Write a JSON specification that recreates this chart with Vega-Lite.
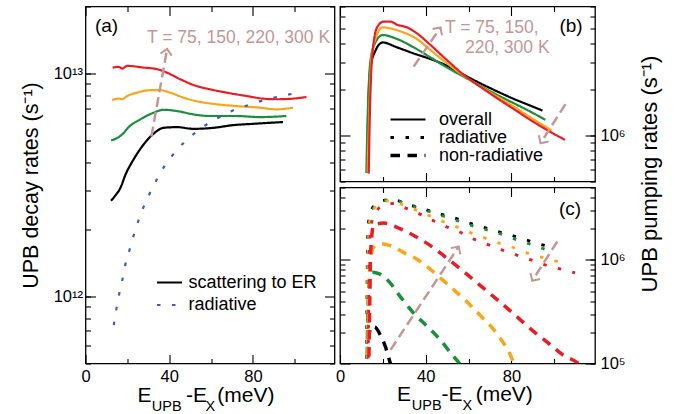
{
"$schema":"https://vega.github.io/schema/vega-lite/v6.json",
"padding":{"left":19.5,"top":4.5,"right":5,"bottom":0},
"background":"white",
"config":{"font":"Liberation Sans","view":{"stroke":"black","strokeWidth":1.3},
"axis":{"domain":false,"grid":false,"tickColor":"black","tickWidth":1.1,"labelColor":"black","labelFont":"Liberation Sans","labelFontSize":16.5,"titleColor":"black","titleFont":"Liberation Sans","titleFontWeight":"normal"},
"legend":{"labelFont":"Liberation Sans","labelFontSize":18,"labelColor":"black"},
"text":{"font":"Liberation Sans"}},
"datasets":{
"decay":[
{"s":"75 K","x":12.2,"y":2.69e12},{"s":"75 K","x":14.3,"y":2.84e12},{"s":"75 K","x":16.7,"y":3.07e12},{"s":"75 K","x":19.0,"y":3.5e12},{"s":"75 K","x":23.0,"y":4.12e12},{"s":"75 K","x":27.8,"y":4.81e12},{"s":"75 K","x":32.5,"y":5.37e12},{"s":"75 K","x":37.3,"y":5.71e12},{"s":"75 K","x":43.7,"y":5.75e12},{"s":"75 K","x":51.6,"y":5.65e12},{"s":"75 K","x":61.1,"y":5.71e12},{"s":"75 K","x":70.6,"y":5.87e12},{"s":"75 K","x":80.1,"y":5.95e12},{"s":"75 K","x":94.4,"y":6.06e12},
{"s":"150 K","x":12.2,"y":5.01e12},{"s":"150 K","x":15.9,"y":5.19e12},{"s":"150 K","x":17.5,"y":5.33e12},{"s":"150 K","x":20.6,"y":5.75e12},{"s":"150 K","x":26.2,"y":6.23e12},{"s":"150 K","x":32.5,"y":6.67e12},{"s":"150 K","x":37.3,"y":6.88e12},{"s":"150 K","x":43.7,"y":6.79e12},{"s":"150 K","x":51.6,"y":6.56e12},{"s":"150 K","x":59.5,"y":6.45e12},{"s":"150 K","x":72.2,"y":6.45e12},{"s":"150 K","x":83.3,"y":6.38e12},{"s":"150 K","x":96.0,"y":6.45e12},
{"s":"220 K","x":12.7,"y":7.61e12},{"s":"220 K","x":15.9,"y":7.72e12},{"s":"220 K","x":17.5,"y":7.67e12},{"s":"220 K","x":19.9,"y":7.93e12},{"s":"220 K","x":24.6,"y":8.21e12},{"s":"220 K","x":30.9,"y":8.42e12},{"s":"220 K","x":35.7,"y":8.42e12},{"s":"220 K","x":40.5,"y":8.21e12},{"s":"220 K","x":46.8,"y":7.8e12},{"s":"220 K","x":54.8,"y":7.46e12},{"s":"220 K","x":62.7,"y":7.28e12},{"s":"220 K","x":72.2,"y":7.15e12},{"s":"220 K","x":83.3,"y":7.03e12},{"s":"220 K","x":91.3,"y":6.91e12},{"s":"220 K","x":99.2,"y":7.03e12},
{"s":"300 K","x":13.0,"y":1.064e13},{"s":"300 K","x":15.9,"y":1.072e13},{"s":"300 K","x":17.5,"y":1.053e13},{"s":"300 K","x":19.9,"y":1.083e13},{"s":"300 K","x":27.8,"y":1.064e13},{"s":"300 K","x":34.1,"y":1.047e13},{"s":"300 K","x":38.9,"y":1.01e13},{"s":"300 K","x":45.2,"y":9.44e12},{"s":"300 K","x":51.6,"y":8.89e12},{"s":"300 K","x":59.5,"y":8.5e12},{"s":"300 K","x":67.5,"y":8.21e12},{"s":"300 K","x":77.0,"y":7.93e12},{"s":"300 K","x":84.9,"y":7.72e12},{"s":"300 K","x":91.3,"y":7.67e12},{"s":"300 K","x":99.2,"y":7.72e12},{"s":"300 K","x":105.6,"y":7.85e12},
{"s":"radiative","x":13.5,"y":7.43e11},{"s":"radiative","x":16.0,"y":1.015e12},{"s":"radiative","x":17.6,"y":1.186e12},{"s":"radiative","x":19.0,"y":1.385e12},{"s":"radiative","x":21.0,"y":1.612e12},{"s":"radiative","x":23.0,"y":1.877e12},{"s":"radiative","x":25.2,"y":2.177e12},{"s":"radiative","x":27.8,"y":2.527e12},{"s":"radiative","x":30.8,"y":2.91e12},{"s":"radiative","x":34.1,"y":3.355e12},{"s":"radiative","x":37.8,"y":3.85e12},{"s":"radiative","x":42.1,"y":4.36e12},{"s":"radiative","x":47.1,"y":4.91e12},{"s":"radiative","x":52.7,"y":5.45e12},{"s":"radiative","x":58.7,"y":5.98e12},{"s":"radiative","x":65.1,"y":6.45e12},{"s":"radiative","x":71.7,"y":6.91e12},{"s":"radiative","x":78.6,"y":7.25e12},{"s":"radiative","x":85.4,"y":7.61e12},{"s":"radiative","x":92.5,"y":7.88e12},{"s":"radiative","x":99.5,"y":8.13e12},{"s":"radiative","x":100.5,"y":8.16e12}
],
"pump":[
{"T":"75 K","kind":"overall","x":12.7,"y":5.75e5},{"T":"75 K","kind":"overall","x":13.1,"y":1.318e6},{"T":"75 K","kind":"overall","x":14.2,"y":2.79e6},{"T":"75 K","kind":"overall","x":16.5,"y":3.59e6},{"T":"75 K","kind":"overall","x":19.9,"y":4.07e6},{"T":"75 K","kind":"overall","x":26.6,"y":3.78e6},{"T":"75 K","kind":"overall","x":34.4,"y":3.45e6},{"T":"75 K","kind":"overall","x":42.2,"y":3.17e6},{"T":"75 K","kind":"overall","x":49.9,"y":2.87e6},{"T":"75 K","kind":"overall","x":57.7,"y":2.5e6},{"T":"75 K","kind":"overall","x":65.4,"y":2.2e6},{"T":"75 K","kind":"overall","x":73.2,"y":1.95e6},{"T":"75 K","kind":"overall","x":81.0,"y":1.74e6},{"T":"75 K","kind":"overall","x":88.8,"y":1.57e6},{"T":"75 K","kind":"overall","x":94.5,"y":1.456e6},
{"T":"150 K","kind":"overall","x":12.3,"y":5.68e5},{"T":"150 K","kind":"overall","x":12.9,"y":1.318e6},{"T":"150 K","kind":"overall","x":14.2,"y":3.09e6},{"T":"150 K","kind":"overall","x":16.5,"y":4.07e6},{"T":"150 K","kind":"overall","x":19.9,"y":4.55e6},{"T":"150 K","kind":"overall","x":26.6,"y":4.29e6},{"T":"150 K","kind":"overall","x":34.4,"y":3.78e6},{"T":"150 K","kind":"overall","x":42.2,"y":3.25e6},{"T":"150 K","kind":"overall","x":49.9,"y":2.79e6},{"T":"150 K","kind":"overall","x":57.7,"y":2.43e6},{"T":"150 K","kind":"overall","x":65.4,"y":2.12e6},{"T":"150 K","kind":"overall","x":73.2,"y":1.85e6},{"T":"150 K","kind":"overall","x":81.0,"y":1.63e6},{"T":"150 K","kind":"overall","x":88.8,"y":1.435e6},{"T":"150 K","kind":"overall","x":95.8,"y":1.267e6},
{"T":"220 K","kind":"overall","x":12.9,"y":5.75e5},{"T":"220 K","kind":"overall","x":13.6,"y":1.318e6},{"T":"220 K","kind":"overall","x":14.7,"y":3.25e6},{"T":"220 K","kind":"overall","x":17.1,"y":4.51e6},{"T":"220 K","kind":"overall","x":19.9,"y":5.11e6},{"T":"220 K","kind":"overall","x":23.5,"y":5.03e6},{"T":"220 K","kind":"overall","x":29.7,"y":4.73e6},{"T":"220 K","kind":"overall","x":35.9,"y":4.29e6},{"T":"220 K","kind":"overall","x":42.2,"y":3.63e6},{"T":"220 K","kind":"overall","x":49.9,"y":2.97e6},{"T":"220 K","kind":"overall","x":57.7,"y":2.47e6},{"T":"220 K","kind":"overall","x":65.4,"y":2.1e6},{"T":"220 K","kind":"overall","x":73.2,"y":1.8e6},{"T":"220 K","kind":"overall","x":81.0,"y":1.55e6},{"T":"220 K","kind":"overall","x":88.8,"y":1.318e6},{"T":"220 K","kind":"overall","x":98.8,"y":1.078e6},
{"T":"300 K","kind":"overall","x":13.4,"y":5.63e5},{"T":"300 K","kind":"overall","x":13.9,"y":1.318e6},{"T":"300 K","kind":"overall","x":15.0,"y":3.25e6},{"T":"300 K","kind":"overall","x":17.3,"y":5.11e6},{"T":"300 K","kind":"overall","x":20.4,"y":5.58e6},{"T":"300 K","kind":"overall","x":23.5,"y":5.58e6},{"T":"300 K","kind":"overall","x":26.6,"y":5.32e6},{"T":"300 K","kind":"overall","x":31.3,"y":5.11e6},{"T":"300 K","kind":"overall","x":35.9,"y":4.67e6},{"T":"300 K","kind":"overall","x":42.2,"y":3.92e6},{"T":"300 K","kind":"overall","x":49.9,"y":3.12e6},{"T":"300 K","kind":"overall","x":57.7,"y":2.5e6},{"T":"300 K","kind":"overall","x":65.4,"y":2.09e6},{"T":"300 K","kind":"overall","x":73.2,"y":1.76e6},{"T":"300 K","kind":"overall","x":81.0,"y":1.494e6},{"T":"300 K","kind":"overall","x":88.8,"y":1.267e6},{"T":"300 K","kind":"overall","x":96.5,"y":1.089e6},{"T":"300 K","kind":"overall","x":105.0,"y":9.37e5},
{"T":"75 K","kind":"non-radiative","x":12.6,"y":8e4},{"T":"75 K","kind":"non-radiative","x":13.3,"y":1.62e5},{"T":"75 K","kind":"non-radiative","x":14.4,"y":2.25e5},{"T":"75 K","kind":"non-radiative","x":16.1,"y":2.25e5},{"T":"75 K","kind":"non-radiative","x":18.9,"y":1.87e5},{"T":"75 K","kind":"non-radiative","x":21.2,"y":1.45e5},{"T":"75 K","kind":"non-radiative","x":23.5,"y":1e5},{"T":"75 K","kind":"non-radiative","x":24.5,"y":8.5e4},
{"T":"150 K","kind":"non-radiative","x":12.6,"y":8e4},{"T":"150 K","kind":"non-radiative","x":13.0,"y":3.14e5},{"T":"150 K","kind":"non-radiative","x":13.7,"y":6.11e5},{"T":"150 K","kind":"non-radiative","x":15.1,"y":7.62e5},{"T":"150 K","kind":"non-radiative","x":18.4,"y":7.33e5},{"T":"150 K","kind":"non-radiative","x":23.1,"y":6.11e5},{"T":"150 K","kind":"non-radiative","x":27.7,"y":4.55e5},{"T":"150 K","kind":"non-radiative","x":33.9,"y":3.14e5},{"T":"150 K","kind":"non-radiative","x":40.1,"y":2.34e5},{"T":"150 K","kind":"non-radiative","x":46.3,"y":1.74e5},{"T":"150 K","kind":"non-radiative","x":52.5,"y":1.2e5},{"T":"150 K","kind":"non-radiative","x":55.7,"y":1e5},{"T":"150 K","kind":"non-radiative","x":57.0,"y":9e4},
{"T":"220 K","kind":"non-radiative","x":12.9,"y":8e4},{"T":"220 K","kind":"non-radiative","x":13.4,"y":3.92e5},{"T":"220 K","kind":"non-radiative","x":14.3,"y":1.06e6},{"T":"220 K","kind":"non-radiative","x":15.7,"y":1.324e6},{"T":"220 K","kind":"non-radiative","x":19.9,"y":1.426e6},{"T":"220 K","kind":"non-radiative","x":25.4,"y":1.324e6},{"T":"220 K","kind":"non-radiative","x":30.8,"y":1.142e6},{"T":"220 K","kind":"non-radiative","x":34.4,"y":1.06e6},{"T":"220 K","kind":"non-radiative","x":42.2,"y":8.09e5},{"T":"220 K","kind":"non-radiative","x":49.9,"y":5.88e5},{"T":"220 K","kind":"non-radiative","x":57.7,"y":4.22e5},{"T":"220 K","kind":"non-radiative","x":65.4,"y":2.92e5},{"T":"220 K","kind":"non-radiative","x":73.2,"y":1.94e5},{"T":"220 K","kind":"non-radiative","x":80.2,"y":1.12e5},{"T":"220 K","kind":"non-radiative","x":82.0,"y":9e4},
{"T":"300 K","kind":"non-radiative","x":13.4,"y":8e4},{"T":"300 K","kind":"non-radiative","x":13.9,"y":3.92e5},{"T":"300 K","kind":"non-radiative","x":14.3,"y":1.186e6},{"T":"300 K","kind":"non-radiative","x":15.7,"y":2.16e6},{"T":"300 K","kind":"non-radiative","x":20.4,"y":2.27e6},{"T":"300 K","kind":"non-radiative","x":26.6,"y":2.06e6},{"T":"300 K","kind":"non-radiative","x":34.4,"y":1.72e6},{"T":"300 K","kind":"non-radiative","x":42.2,"y":1.375e6},{"T":"300 K","kind":"non-radiative","x":49.9,"y":1.038e6},{"T":"300 K","kind":"non-radiative","x":57.7,"y":7.73e5},{"T":"300 K","kind":"non-radiative","x":65.4,"y":5.67e5},{"T":"300 K","kind":"non-radiative","x":73.2,"y":4.16e5},{"T":"300 K","kind":"non-radiative","x":81.0,"y":3.02e5},{"T":"300 K","kind":"non-radiative","x":88.8,"y":2.17e5},{"T":"300 K","kind":"non-radiative","x":96.5,"y":1.62e5},{"T":"300 K","kind":"non-radiative","x":104.3,"y":1.2e5},{"T":"300 K","kind":"non-radiative","x":111.2,"y":1e5},{"T":"300 K","kind":"non-radiative","x":113.0,"y":9.2e4},
{"T":"75 K","kind":"radiative","x":12.3,"y":8e4},{"T":"75 K","kind":"radiative","x":12.6,"y":3.92e5},{"T":"75 K","kind":"radiative","x":12.8,"y":1.186e6},{"T":"75 K","kind":"radiative","x":13.3,"y":2.3e6},{"T":"75 K","kind":"radiative","x":14.2,"y":2.92e6},{"T":"75 K","kind":"radiative","x":18.9,"y":3.72e6},{"T":"75 K","kind":"radiative","x":24.8,"y":3.81e6},{"T":"75 K","kind":"radiative","x":31.3,"y":3.45e6},{"T":"75 K","kind":"radiative","x":38.3,"y":3.14e6},{"T":"75 K","kind":"radiative","x":45.3,"y":2.83e6},{"T":"75 K","kind":"radiative","x":51.8,"y":2.61e6},{"T":"75 K","kind":"radiative","x":58.4,"y":2.34e6},{"T":"75 K","kind":"radiative","x":65.4,"y":2.11e6},{"T":"75 K","kind":"radiative","x":71.9,"y":1.92e6},{"T":"75 K","kind":"radiative","x":79.4,"y":1.74e6},{"T":"75 K","kind":"radiative","x":86.4,"y":1.57e6},{"T":"75 K","kind":"radiative","x":93.0,"y":1.426e6},{"T":"75 K","kind":"radiative","x":100.4,"y":1.3e6},
{"T":"150 K","kind":"radiative","x":12.4,"y":8e4},{"T":"150 K","kind":"radiative","x":12.7,"y":3.9e5},{"T":"150 K","kind":"radiative","x":12.9,"y":1.2e6},{"T":"150 K","kind":"radiative","x":13.5,"y":2.3e6},{"T":"150 K","kind":"radiative","x":15.0,"y":3.0e6},{"T":"150 K","kind":"radiative","x":19.5,"y":3.72e6},{"T":"150 K","kind":"radiative","x":25.0,"y":3.78e6},{"T":"150 K","kind":"radiative","x":31.5,"y":3.4e6},{"T":"150 K","kind":"radiative","x":38.5,"y":3.08e6},{"T":"150 K","kind":"radiative","x":45.5,"y":2.76e6},{"T":"150 K","kind":"radiative","x":52.0,"y":2.5e6},{"T":"150 K","kind":"radiative","x":58.0,"y":2.27e6},{"T":"150 K","kind":"radiative","x":63.6,"y":2.08e6},{"T":"150 K","kind":"radiative","x":70.4,"y":1.9e6},{"T":"150 K","kind":"radiative","x":77.1,"y":1.72e6},{"T":"150 K","kind":"radiative","x":84.1,"y":1.52e6},{"T":"150 K","kind":"radiative","x":91.1,"y":1.37e6},{"T":"150 K","kind":"radiative","x":97.7,"y":1.22e6},
{"T":"220 K","kind":"radiative","x":12.6,"y":8e4},{"T":"220 K","kind":"radiative","x":12.9,"y":4e5},{"T":"220 K","kind":"radiative","x":13.2,"y":1.2e6},{"T":"220 K","kind":"radiative","x":13.9,"y":2.3e6},{"T":"220 K","kind":"radiative","x":15.5,"y":3.0e6},{"T":"220 K","kind":"radiative","x":19.5,"y":3.65e6},{"T":"220 K","kind":"radiative","x":24.0,"y":3.72e6},{"T":"220 K","kind":"radiative","x":30.0,"y":3.35e6},{"T":"220 K","kind":"radiative","x":36.0,"y":3.0e6},{"T":"220 K","kind":"radiative","x":42.9,"y":2.6e6},{"T":"220 K","kind":"radiative","x":49.1,"y":2.3e6},{"T":"220 K","kind":"radiative","x":55.3,"y":2.05e6},{"T":"220 K","kind":"radiative","x":61.8,"y":1.8e6},{"T":"220 K","kind":"radiative","x":68.6,"y":1.6e6},{"T":"220 K","kind":"radiative","x":75.1,"y":1.43e6},{"T":"220 K","kind":"radiative","x":81.7,"y":1.3e6},{"T":"220 K","kind":"radiative","x":88.7,"y":1.14e6},{"T":"220 K","kind":"radiative","x":95.7,"y":1.04e6},{"T":"220 K","kind":"radiative","x":102.7,"y":9.5e5},
{"T":"300 K","kind":"radiative","x":13.1,"y":8e4},{"T":"300 K","kind":"radiative","x":13.4,"y":4e5},{"T":"300 K","kind":"radiative","x":13.7,"y":1.2e6},{"T":"300 K","kind":"radiative","x":14.6,"y":2.2e6},{"T":"300 K","kind":"radiative","x":16.5,"y":2.8e6},{"T":"300 K","kind":"radiative","x":20.5,"y":3.4e6},{"T":"300 K","kind":"radiative","x":25.0,"y":3.5e6},{"T":"300 K","kind":"radiative","x":30.0,"y":3.2e6},{"T":"300 K","kind":"radiative","x":36.0,"y":2.85e6},{"T":"300 K","kind":"radiative","x":42.5,"y":2.45e6},{"T":"300 K","kind":"radiative","x":49.0,"y":2.12e6},{"T":"300 K","kind":"radiative","x":56.1,"y":1.85e6},{"T":"300 K","kind":"radiative","x":62.3,"y":1.59e6},{"T":"300 K","kind":"radiative","x":68.8,"y":1.41e6},{"T":"300 K","kind":"radiative","x":75.5,"y":1.25e6},{"T":"300 K","kind":"radiative","x":82.2,"y":1.12e6},{"T":"300 K","kind":"radiative","x":89.1,"y":1.0e6},{"T":"300 K","kind":"radiative","x":95.7,"y":8.96e5},{"T":"300 K","kind":"radiative","x":102.7,"y":8.19e5},{"T":"300 K","kind":"radiative","x":109.7,"y":7.5e5}
]},
"spacing":5.5,
"bounds":"flush",
"resolve":{"scale":{"color":"independent","strokeDash":"independent","strokeWidth":"independent"},"legend":{"color":"independent","strokeDash":"independent","strokeWidth":"independent"}},
"hconcat":[
{"width":249,"height":357,
"resolve":{"axis":{"x":"independent","y":"independent"}},
"layer":[
{"data":{"name":"decay"},"mark":{"type":"line","interpolate":"monotone","clip":true},
"encoding":{
"x":{"field":"x","type":"quantitative","scale":{"domain":[0,119],"nice":false,"zero":false},"axis":{"orient":"bottom","values":[0,20,40,60,80,100],"labelExpr":"datum.value % 40 == 0 ? datum.label : ''","tickSize":{"condition":{"test":"datum.value % 40 == 0","value":-9},"value":-5},"labelPadding":14,"labelOverlap":false,"labelFlush":false,"title":null}},
"y":{"field":"y","type":"quantitative","scale":{"type":"log","domain":[5e11,2e13],"nice":false},"axis":{"orient":"left","values":[1e12,1e13],"labelExpr":"abs(datum.value/1e12-1)<1e-6 ? '10¹²' : '10¹³'","tickSize":-10,"labelPadding":13,"labelOverlap":false,"labelFlush":false,"labelBaseline":"middle","title":"UPB decay rates (s⁻¹)","titleFontSize":21.5,"titleAngle":270,"titleX":-48.3,"titleY":178.5,"titleAlign":"center","titleBaseline":"alphabetic"}},
"color":{"field":"s","type":"nominal","scale":{"domain":["75 K","150 K","220 K","300 K","radiative"],"range":["#000000","#1a8f3c","#faa61a","#ed1c24","#3b5cc4"]},"legend":{"orient":"none","legendX":75,"legendY":267,"title":null,"values":["75 K","radiative"],"labelExpr":"datum.label == '75 K' ? 'scattering to ER' : datum.label","symbolType":"M-2.5,0H2.5","symbolSize":100,"labelFontSize":18,"labelOffset":10,"rowPadding":4.5,"padding":0,"labelLimit":300}},
"strokeDash":{"field":"s","type":"nominal","scale":{"domain":["75 K","150 K","220 K","300 K","radiative"],"range":[[1,0],[1,0],[1,0],[1,0],[3.5,11.5]]},"legend":{"orient":"none","legendX":75,"legendY":267,"title":null,"values":["75 K","radiative"],"labelExpr":"datum.label == '75 K' ? 'scattering to ER' : datum.label","symbolType":"M-2.5,0H2.5","symbolSize":100,"labelFontSize":18,"labelOffset":10,"rowPadding":4.5,"padding":0,"labelLimit":300}},
"strokeWidth":{"field":"s","type":"ordinal","scale":{"domain":["75 K","150 K","220 K","300 K","radiative"],"range":[2.2,2.2,2.2,2.2,3.5]},"legend":{"orient":"none","legendX":75,"legendY":267,"title":null,"values":["75 K","radiative"],"labelExpr":"datum.label == '75 K' ? 'scattering to ER' : datum.label","symbolType":"M-2.5,0H2.5","symbolSize":100,"labelFontSize":18,"labelOffset":10,"rowPadding":4.5,"padding":0,"labelLimit":300}}
}},
{"data":{"values":[{}]},"mark":{"type":"rule","stroke":"#c49696","strokeWidth":2.5,"strokeDash":[10,5]},
"encoding":{
"x":{"datum":31.5,"type":"quantitative","scale":{"domain":[0,119],"nice":false,"zero":false},"axis":{"orient":"top","values":[0,20,40,60,80,100],"labels":false,"tickSize":{"condition":{"test":"datum.value % 40 == 0","value":-9},"value":-5},"title":null}},
"y":{"datum":5.22e12,"type":"quantitative","scale":{"type":"log","domain":[5e11,2e13],"nice":false},"axis":{"orient":"right","tickCount":20,"labels":false,"tickSize":{"condition":{"test":"abs(log(datum.value)/LN10 - round(log(datum.value)/LN10)) < 1e-6","value":-10},"value":-5},"title":null}},
"x2":{"datum":39.0},"y2":{"datum":1.29e13}}},
{"data":{"values":[{}]},"mark":{"type":"point","shape":"M-1,1L0,0L1,1","filled":false,"stroke":"#c49696","strokeWidth":2,"size":130,"angle":10.3,"opacity":1},
"encoding":{"x":{"datum":39.0,"type":"quantitative","scale":{"domain":[0,119],"nice":false,"zero":false},"axis":null},"y":{"datum":1.29e13,"type":"quantitative","scale":{"type":"log","domain":[5e11,2e13],"nice":false},"axis":{"orient":"left","tickCount":20,"labels":false,"tickSize":-5,"title":null}}}},
{"data":{"values":[{}]},"mark":{"type":"text","text":"(a)","fontSize":19,"align":"left","baseline":"alphabetic","color":"black"},
"encoding":{"x":{"datum":4.5,"type":"quantitative","scale":{"domain":[0,119],"nice":false,"zero":false},"axis":null},"y":{"datum":1.534e13,"type":"quantitative","scale":{"type":"log","domain":[5e11,2e13],"nice":false},"axis":null}}},
{"data":{"values":[{}]},"mark":{"type":"text","text":"T = 75, 150, 220, 300 K","fontSize":17.5,"align":"left","baseline":"alphabetic","color":"#c49696"},
"encoding":{"x":{"datum":29.4,"type":"quantitative","scale":{"domain":[0,119],"nice":false,"zero":false},"axis":null},"y":{"datum":1.369e13,"type":"quantitative","scale":{"type":"log","domain":[5e11,2e13],"nice":false},"axis":null}}},
{"data":{"values":[{}]},"mark":{"type":"text","text":"E","fontSize":21,"align":"left","baseline":"alphabetic","color":"black"},
"encoding":{"x":{"datum":24.8,"type":"quantitative","scale":{"domain":[0,119],"nice":false,"zero":false},"axis":null},"y":{"datum":3.375e11,"type":"quantitative","scale":{"type":"log","domain":[5e11,2e13],"nice":false},"axis":null}}},
{"data":{"values":[{}]},"mark":{"type":"text","text":"UPB","fontSize":14.5,"align":"left","baseline":"alphabetic","color":"black"},
"encoding":{"x":{"datum":31.7,"type":"quantitative","scale":{"domain":[0,119],"nice":false,"zero":false},"axis":null},"y":{"datum":3.074e11,"type":"quantitative","scale":{"type":"log","domain":[5e11,2e13],"nice":false},"axis":null}}},
{"data":{"values":[{}]},"mark":{"type":"text","text":"-E","fontSize":21,"align":"left","baseline":"alphabetic","color":"black"},
"encoding":{"x":{"datum":48.0,"type":"quantitative","scale":{"domain":[0,119],"nice":false,"zero":false},"axis":null},"y":{"datum":3.375e11,"type":"quantitative","scale":{"type":"log","domain":[5e11,2e13],"nice":false},"axis":null}}},
{"data":{"values":[{}]},"mark":{"type":"text","text":"X","fontSize":14.5,"align":"left","baseline":"alphabetic","color":"black"},
"encoding":{"x":{"datum":57.4,"type":"quantitative","scale":{"domain":[0,119],"nice":false,"zero":false},"axis":null},"y":{"datum":3.074e11,"type":"quantitative","scale":{"type":"log","domain":[5e11,2e13],"nice":false},"axis":null}}},
{"data":{"values":[{}]},"mark":{"type":"text","text":"(meV)","fontSize":21,"align":"left","baseline":"alphabetic","color":"black"},
"encoding":{"x":{"datum":63.0,"type":"quantitative","scale":{"domain":[0,119],"nice":false,"zero":false},"axis":null},"y":{"datum":3.375e11,"type":"quantitative","scale":{"type":"log","domain":[5e11,2e13],"nice":false},"axis":null}}}
]},
{"vconcat":[
{"width":255,"height":175,
"resolve":{"axis":{"x":"independent","y":"independent"}},
"layer":[
{"data":{"name":"pump"},"transform":[{"filter":"datum.kind == 'overall'"}],"mark":{"type":"line","interpolate":"monotone","clip":true},
"encoding":{
"x":{"field":"x","type":"quantitative","scale":{"domain":[0,119],"nice":false,"zero":false},"axis":{"orient":"bottom","values":[0,20,40,60,80,100],"labels":false,"tickSize":{"condition":{"test":"datum.value % 40 == 0","value":-9},"value":-5},"title":null}},
"y":{"field":"y","type":"quantitative","scale":{"type":"log","domain":[5e5,7e6],"nice":false},"axis":{"orient":"right","values":[1e6],"labelExpr":"'10⁶'","tickSize":-10,"labelPadding":15,"labelOverlap":false,"labelFlush":false,"labelBaseline":"middle","labelAlign":"left","title":null}},
"color":{"field":"T","type":"nominal","scale":{"domain":["75 K","150 K","220 K","300 K"],"range":["#000000","#1a8f3c","#faa61a","#ed1c24"]},"legend":null},
"strokeDash":{"field":"kind","type":"nominal","scale":{"domain":["overall","radiative","non-radiative"],"range":[[1,0],[3.5,11.5],[9.5,7.5]]},"legend":{"orient":"none","legendX":59,"legendY":104,"title":null,"symbolType":"M-3.5,0H3.5","symbolSize":100,"symbolStrokeColor":"black","labelFontSize":18,"labelOffset":22,"rowPadding":0,"padding":0,"labelLimit":300}},
"strokeWidth":{"field":"kind","type":"ordinal","scale":{"domain":["overall","radiative","non-radiative"],"range":[2.2,3.5,2.2]},"legend":{"orient":"none","legendX":59,"legendY":104,"title":null,"symbolType":"M-3.5,0H3.5","symbolSize":100,"symbolStrokeColor":"black","labelFontSize":18,"labelOffset":22,"rowPadding":0,"padding":0,"labelLimit":300}}
}},
{"data":{"values":[{}]},"mark":{"type":"rule","stroke":"#c49696","strokeWidth":2.5,"strokeDash":[10,5]},
"encoding":{
"x":{"datum":34.4,"type":"quantitative","scale":{"domain":[0,119],"nice":false,"zero":false},"axis":{"orient":"top","values":[0,20,40,60,80,100],"labels":false,"tickSize":{"condition":{"test":"datum.value % 40 == 0","value":-9},"value":-5},"title":null}},
"y":{"datum":2.833e6,"type":"quantitative","scale":{"type":"log","domain":[5e5,7e6],"nice":false},"axis":{"orient":"left","tickCount":20,"labels":false,"tickSize":{"condition":{"test":"abs(log(datum.value)/LN10 - round(log(datum.value)/LN10)) < 1e-6","value":-10},"value":-5},"title":null}},
"x2":{"datum":46.9},"y2":{"datum":5.1e6}}},
{"data":{"values":[{}]},"mark":{"type":"point","shape":"M-1,1L0,0L1,1","filled":false,"stroke":"#c49696","strokeWidth":2,"size":130,"angle":34.4,"opacity":1},
"encoding":{"x":{"datum":46.9,"type":"quantitative","scale":{"domain":[0,119],"nice":false,"zero":false},"axis":null},"y":{"datum":5.1e6,"type":"quantitative","scale":{"type":"log","domain":[5e5,7e6],"nice":false},"axis":{"orient":"right","tickCount":20,"labels":false,"tickSize":-5,"title":null}}}},
{"data":{"values":[{}]},"mark":{"type":"rule","stroke":"#c49696","strokeWidth":2.5,"strokeDash":[10,5]},
"encoding":{"x":{"datum":105.2,"type":"quantitative","scale":{"domain":[0,119],"nice":false,"zero":false},"axis":null},"y":{"datum":1.605e6,"type":"quantitative","scale":{"type":"log","domain":[5e5,7e6],"nice":false},"axis":null},"x2":{"datum":93.6},"y2":{"datum":8.91e5}}},
{"data":{"values":[{}]},"mark":{"type":"point","shape":"M-1,1L0,0L1,1","filled":false,"stroke":"#c49696","strokeWidth":2,"size":130,"angle":212.7,"opacity":1},
"encoding":{"x":{"datum":93.6,"type":"quantitative","scale":{"domain":[0,119],"nice":false,"zero":false},"axis":null},"y":{"datum":8.91e5,"type":"quantitative","scale":{"type":"log","domain":[5e5,7e6],"nice":false},"axis":null}}},
{"data":{"values":[{}]},"mark":{"type":"text","text":"(b)","fontSize":19,"align":"left","baseline":"alphabetic","color":"black"},
"encoding":{"x":{"datum":102.4,"type":"quantitative","scale":{"domain":[0,119],"nice":false,"zero":false},"axis":null},"y":{"datum":4.75e6,"type":"quantitative","scale":{"type":"log","domain":[5e5,7e6],"nice":false},"axis":null}}},
{"data":{"values":[{}]},"mark":{"type":"text","text":"T = 75, 150,","fontSize":17.5,"align":"left","baseline":"alphabetic","color":"#c49696"},
"encoding":{"x":{"datum":49.0,"type":"quantitative","scale":{"domain":[0,119],"nice":false,"zero":false},"axis":null},"y":{"datum":4.68e6,"type":"quantitative","scale":{"type":"log","domain":[5e5,7e6],"nice":false},"axis":null}}},
{"data":{"values":[{}]},"mark":{"type":"text","text":"220, 300 K","fontSize":17.5,"align":"left","baseline":"alphabetic","color":"#c49696"},
"encoding":{"x":{"datum":58.3,"type":"quantitative","scale":{"domain":[0,119],"nice":false,"zero":false},"axis":null},"y":{"datum":3.46e6,"type":"quantitative","scale":{"type":"log","domain":[5e5,7e6],"nice":false},"axis":null}}}
]},
{"width":255,"height":176,
"resolve":{"axis":{"x":"independent","y":"independent"}},
"layer":[
{"data":{"name":"pump"},"transform":[{"filter":"datum.kind != 'overall'"}],"mark":{"type":"line","interpolate":"monotone","clip":true},
"encoding":{
"x":{"field":"x","type":"quantitative","scale":{"domain":[0,119],"nice":false,"zero":false},"axis":{"orient":"bottom","values":[0,20,40,60,80,100],"labelExpr":"datum.value % 40 == 0 ? datum.label : ''","tickSize":{"condition":{"test":"datum.value % 40 == 0","value":-9},"value":-5},"labelPadding":14,"labelOverlap":false,"labelFlush":false,"title":null}},
"y":{"field":"y","type":"quantitative","scale":{"type":"log","domain":[1e5,5e6],"nice":false},"axis":{"orient":"right","values":[1e5,1e6],"labelExpr":"abs(datum.value/1e6-1)<1e-6 ? '10⁶' : '10⁵'","tickSize":-10,"labelPadding":15,"labelOverlap":false,"labelFlush":false,"labelBaseline":"middle","labelAlign":"left","title":"UPB pumping rates (s⁻¹)","titleFontSize":22,"titleAngle":270,"titleX":61.5,"titleY":-14,"titleAlign":"center","titleBaseline":"alphabetic"}},
"color":{"field":"T","type":"nominal","scale":{"domain":["75 K","150 K","220 K","300 K"],"range":["#000000","#1a8f3c","#faa61a","#ed1c24"]},"legend":null},
"strokeDash":{"field":"kind","type":"nominal","scale":{"domain":["overall","radiative","non-radiative"],"range":[[1,0],[3.5,11.5],[9.5,7.5]]},"legend":null},
"strokeWidth":{"field":"kind","type":"ordinal","scale":{"domain":["overall","radiative","non-radiative"],"range":[2.2,3.5,2.2]},"legend":null}
}},
{"data":{"values":[{}]},"mark":{"type":"rule","stroke":"#c49696","strokeWidth":2.5,"strokeDash":[10,5]},
"encoding":{
"x":{"datum":23.6,"type":"quantitative","scale":{"domain":[0,119],"nice":false,"zero":false},"axis":{"orient":"top","values":[0,20,40,60,80,100],"labels":false,"tickSize":{"condition":{"test":"datum.value % 40 == 0","value":-9},"value":-5},"title":null}},
"y":{"datum":1.356e5,"type":"quantitative","scale":{"type":"log","domain":[1e5,5e6],"nice":false},"axis":{"orient":"left","tickCount":20,"labels":false,"tickSize":{"condition":{"test":"abs(log(datum.value)/LN10 - round(log(datum.value)/LN10)) < 1e-6","value":-10},"value":-5},"title":null}},
"x2":{"datum":55.4},"y2":{"datum":1.347e6}}},
{"data":{"values":[{}]},"mark":{"type":"point","shape":"M-1,1L0,0L1,1","filled":false,"stroke":"#c49696","strokeWidth":2,"size":130,"angle":33.5,"opacity":1},
"encoding":{"x":{"datum":55.4,"type":"quantitative","scale":{"domain":[0,119],"nice":false,"zero":false},"axis":null},"y":{"datum":1.347e6,"type":"quantitative","scale":{"type":"log","domain":[1e5,5e6],"nice":false},"axis":{"orient":"right","tickCount":20,"labels":false,"tickSize":-5,"title":null}}}},
{"data":{"values":[{}]},"mark":{"type":"rule","stroke":"#c49696","strokeWidth":2.5,"strokeDash":[10,5]},
"encoding":{"x":{"datum":101.4,"type":"quantitative","scale":{"domain":[0,119],"nice":false,"zero":false},"axis":null},"y":{"datum":1.505e6,"type":"quantitative","scale":{"type":"log","domain":[1e5,5e6],"nice":false},"axis":null},"x2":{"datum":89.7},"y2":{"datum":6.29e5}}},
{"data":{"values":[{}]},"mark":{"type":"point","shape":"M-1,1L0,0L1,1","filled":false,"stroke":"#c49696","strokeWidth":2,"size":130,"angle":212.5,"opacity":1},
"encoding":{"x":{"datum":89.7,"type":"quantitative","scale":{"domain":[0,119],"nice":false,"zero":false},"axis":null},"y":{"datum":6.29e5,"type":"quantitative","scale":{"type":"log","domain":[1e5,5e6],"nice":false},"axis":null}}},
{"data":{"values":[{}]},"mark":{"type":"text","text":"(c)","fontSize":19,"align":"left","baseline":"alphabetic","color":"black"},
"encoding":{"x":{"datum":102.2,"type":"quantitative","scale":{"domain":[0,119],"nice":false,"zero":false},"axis":null},"y":{"datum":2.725e6,"type":"quantitative","scale":{"type":"log","domain":[1e5,5e6],"nice":false},"axis":null}}},
{"data":{"values":[{}]},"mark":{"type":"text","text":"E","fontSize":21,"align":"left","baseline":"alphabetic","color":"black"},
"encoding":{"x":{"datum":26.6,"type":"quantitative","scale":{"domain":[0,119],"nice":false,"zero":false},"axis":null},"y":{"datum":4.3e4,"type":"quantitative","scale":{"type":"log","domain":[1e5,5e6],"nice":false},"axis":null}}},
{"data":{"values":[{}]},"mark":{"type":"text","text":"UPB","fontSize":14.5,"align":"left","baseline":"alphabetic","color":"black"},
"encoding":{"x":{"datum":33.5,"type":"quantitative","scale":{"domain":[0,119],"nice":false,"zero":false},"axis":null},"y":{"datum":3.52e4,"type":"quantitative","scale":{"type":"log","domain":[1e5,5e6],"nice":false},"axis":null}}},
{"data":{"values":[{}]},"mark":{"type":"text","text":"-E","fontSize":21,"align":"left","baseline":"alphabetic","color":"black"},
"encoding":{"x":{"datum":47.4,"type":"quantitative","scale":{"domain":[0,119],"nice":false,"zero":false},"axis":null},"y":{"datum":4.3e4,"type":"quantitative","scale":{"type":"log","domain":[1e5,5e6],"nice":false},"axis":null}}},
{"data":{"values":[{}]},"mark":{"type":"text","text":"X","fontSize":14.5,"align":"left","baseline":"alphabetic","color":"black"},
"encoding":{"x":{"datum":57.2,"type":"quantitative","scale":{"domain":[0,119],"nice":false,"zero":false},"axis":null},"y":{"datum":3.52e4,"type":"quantitative","scale":{"type":"log","domain":[1e5,5e6],"nice":false},"axis":null}}},
{"data":{"values":[{}]},"mark":{"type":"text","text":"(meV)","fontSize":21,"align":"left","baseline":"alphabetic","color":"black"},
"encoding":{"x":{"datum":63.3,"type":"quantitative","scale":{"domain":[0,119],"nice":false,"zero":false},"axis":null},"y":{"datum":4.3e4,"type":"quantitative","scale":{"type":"log","domain":[1e5,5e6],"nice":false},"axis":null}}}
]}
],
"spacing":6,
"bounds":"flush",
"resolve":{"scale":{"color":"independent","strokeDash":"independent","strokeWidth":"independent"},"legend":{"color":"independent","strokeDash":"independent","strokeWidth":"independent"}}
}
]
}
